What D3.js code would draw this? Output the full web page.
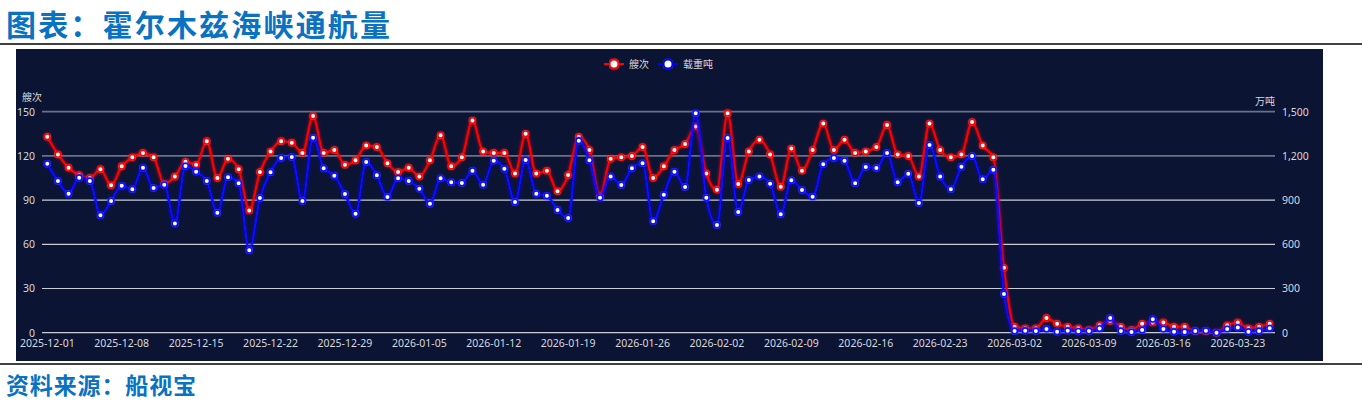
<!DOCTYPE html>
<html>
<head>
<meta charset="utf-8">
<script src="https://cdn.jsdelivr.net/npm/d3@7"></script>
<style>
    body { margin: 0; background: #ffffff; }
    svg { display: block; }
    text { font-family: "Noto Sans", "Noto Sans CJK SC", sans-serif; }
    .cjk { font-family: "Noto Sans CJK SC", sans-serif; }
    .axis path, .axis line { display: none; }
    .axis text { fill: #d6d8de; font-size: 10.5px; }
</style>
</head>
<body>
<script>
// set the dimensions and margins of the graph
var width = 1362
var height = 406
var panel = { left: 16, top: 49, right: 1323, bottom: 361 }
var margin = { top: 111.7, left: 42, right: 1275, bottom: 332.7 }

// data: one value per day, 2025-12-01 .. 2026-03-26
var startDate = "2025-12-01"
var dayCount = 116

// 艘次 (left axis)
var shipCounts = [
    133, 121, 112, 107, 105, 111, 100, 113, 119, 122, 119, 101, 106, 116, 114, 130,
    105, 118, 111, 83, 109, 123, 130, 129, 122, 147, 122, 124, 114, 117, 127, 126,
    115, 109, 112, 106, 117, 134, 113, 119, 144, 123, 122, 122, 108, 135, 108, 110,
    96, 107, 133, 124, 93, 118, 119, 120, 126, 105, 113, 124, 128, 140, 108, 97,
    149, 101, 123, 131, 121, 99, 125, 110, 124, 142, 124, 131, 122, 123, 126, 141,
    121, 120, 106, 142, 124, 119, 121, 143, 127, 119, 44, 4, 3, 3, 10, 6,
    4, 3, 2, 5, 8, 4, 2, 6, 7, 7, 4, 4, 1, 1, 0, 5,
    7, 3, 4, 6
]

// 载重吨 in 万吨 (right axis)
var dwtValues = [
    1147, 1030, 943, 1052, 1030, 797, 894, 998, 973, 1120, 982, 1004, 742, 1131, 1093, 1030,
    814, 1055, 1014, 559, 914, 1089, 1186, 1192, 894, 1323, 1116, 1066, 941, 808, 1159, 1068,
    921, 1048, 1030, 977, 876, 1048, 1021, 1016, 1100, 1005, 1167, 1113, 887, 1173, 943, 930,
    833, 778, 1303, 1170, 916, 1061, 1002, 1116, 1150, 756, 937, 1093, 989, 1489, 916, 731,
    1321, 819, 1036, 1061, 1011, 804, 1034, 969, 923, 1143, 1186, 1167, 1014, 1125, 1118, 1220,
    1021, 1079, 880, 1274, 1061, 973, 1127, 1199, 1041, 1106, 263, 12, 14, 12, 25, 7,
    14, 9, 12, 28, 99, 12, 5, 18, 92, 25, 7, 5, 12, 14, 0, 25,
    35, 7, 12, 30
]

var leftTicks = [0, 30, 60, 90, 120, 150]
var rightTicks = [0, 300, 600, 900, 1200, 1500]
var labelEvery = 7

var seriesNames = ["艘次", "载重吨"]
var axisNames = ["艘次", "万吨"]
var titleText = "图表：霍尔木兹海峡通航量"
var sourceText = "资料来源：船视宝"

var fmtDay = d3.timeFormat("%Y-%m-%d")
var dates = d3.timeDays(d3.timeParse("%Y-%m-%d")(startDate),
    d3.timeDay.offset(d3.timeParse("%Y-%m-%d")(startDate), dayCount)).map(fmtDay)

var xScale, yLeft, yRight

var svg = d3.select("body").append("svg")
    .attr("width", width)
    .attr("height", height);

var defs = svg.append("defs");
function addGlow(id, dev) {
    var f = defs.append("filter").attr("id", id)
        .attr("x", "-5%").attr("y", "-20%").attr("width", "110%").attr("height", "140%");
    f.append("feGaussianBlur").attr("in", "SourceGraphic").attr("stdDeviation", dev).attr("result", "b");
    var m = f.append("feMerge");
    m.append("feMergeNode").attr("in", "b");
    m.append("feMergeNode").attr("in", "SourceGraphic");
}
addGlow("glow", 1.6);
addGlow("glowDot", 1.2);

function renderFrame() {
    svg.append("text")
        .attr("class", "cjk")
        .attr("x", 6)
        .attr("y", 36)
        .attr("textLength", 384)
        .attr("lengthAdjust", "spacing")
        .style("font-size", "30px")
        .style("font-weight", "bold")
        .style("fill", "#0a72c2")
        .text(titleText);

    svg.append("line")
        .attr("x1", 0).attr("x2", width)
        .attr("y1", 44).attr("y2", 44)
        .style("stroke", "#000").style("stroke-width", 1.5);

    svg.append("rect")
        .attr("x", panel.left).attr("y", panel.top)
        .attr("width", panel.right - panel.left)
        .attr("height", panel.bottom - panel.top)
        .style("fill", "#0c1434");

    svg.append("line")
        .attr("x1", 0).attr("x2", width)
        .attr("y1", 364).attr("y2", 364)
        .style("stroke", "#000").style("stroke-width", 1.5);

    svg.append("text")
        .attr("class", "cjk")
        .attr("x", 6)
        .attr("y", 394)
        .attr("textLength", 190)
        .attr("lengthAdjust", "spacing")
        .style("font-size", "23px")
        .style("font-weight", "bold")
        .style("fill", "#0a72c2")
        .text(sourceText);
}

function renderAxes() {
    xScale = d3.scaleBand()
        .domain(dates)
        .range([margin.left, margin.right]);

    yLeft = d3.scaleLinear()
        .domain([0, 150])
        .range([margin.bottom, margin.top]);

    yRight = d3.scaleLinear()
        .domain([0, 1500])
        .range([margin.bottom, margin.top]);

    // grid lines
    svg.append("g")
        .selectAll("line")
        .data(leftTicks)
        .enter()
        .append("line")
        .attr("x1", margin.left)
        .attr("x2", margin.right)
        .attr("y1", (d) => yLeft(d))
        .attr("y2", (d) => yLeft(d))
        .style("stroke", (d) => d >= 120 ? "#6a7086" : "#c9ccd4")
        .style("stroke-width", (d) => d >= 120 ? 1.8 : 1.2);

    svg.append("g")
        .attr("class", "axis")
        .attr("transform", "translate(" + margin.left + ",0)")
        .call(d3.axisLeft(yLeft).tickValues(leftTicks).tickSize(0).tickPadding(7));

    svg.append("g")
        .attr("class", "axis")
        .attr("transform", "translate(" + margin.right + ",0)")
        .call(d3.axisRight(yRight).tickValues(rightTicks).tickSize(0).tickPadding(7)
            .tickFormat(d3.format(",")));

    svg.append("g")
        .attr("class", "axis")
        .attr("transform", "translate(0," + margin.bottom + ")")
        .call(d3.axisBottom(xScale)
            .tickValues(dates.filter((d, i) => i % labelEvery === 0))
            .tickSize(0).tickPadding(7));

    svg.append("text")
        .attr("class", "cjk")
        .attr("x", 22).attr("y", 101)
        .style("font-size", "10px").style("fill", "#d6d8de")
        .text(axisNames[0]);

    svg.append("text")
        .attr("class", "cjk")
        .attr("x", margin.right).attr("y", 105)
        .attr("text-anchor", "end")
        .style("font-size", "10px").style("fill", "#d6d8de")
        .text(axisNames[1]);
}

function renderSeries(values, yScale, color) {
    var pts = values.map((v, i) => ({ x: xScale(dates[i]) + xScale.bandwidth() / 2, y: yScale(v) }));

    var line = d3.line()
        .x((d) => d.x)
        .y((d) => d.y)
        .curve(d3.curveMonotoneX);

    svg.append("path")
        .datum(pts)
        .attr("d", line)
        .attr("filter", "url(#glow)")
        .style("fill", "none")
        .style("stroke", color)
        .style("stroke-width", 2);

    svg.append("g")
        .attr("filter", "url(#glowDot)")
        .selectAll("circle")
        .data(pts)
        .enter()
        .append("circle")
        .attr("cx", (d) => d.x)
        .attr("cy", (d) => d.y)
        .attr("r", 2.8)
        .style("fill", "#ffffff")
        .style("stroke", color)
        .style("stroke-width", 1.6);
}

function renderLegend() {
    var items = [
        { name: seriesNames[0], color: "#ff0000", x: 604 },
        { name: seriesNames[1], color: "#0000ff", x: 658 }
    ];
    var g = svg.append("g");
    items.forEach(function (it) {
        g.append("line")
            .attr("x1", it.x).attr("x2", it.x + 20)
            .attr("y1", 64).attr("y2", 64)
            .style("stroke", it.color).style("stroke-width", 2);
        g.append("circle")
            .attr("cx", it.x + 10).attr("cy", 64).attr("r", 4.5)
            .attr("filter", "url(#glowDot)")
            .style("fill", "#ffffff")
            .style("stroke", it.color).style("stroke-width", 2);
        g.append("text")
            .attr("class", "cjk")
            .attr("x", it.x + 25).attr("y", 68)
            .style("font-size", "10px").style("fill", "#d6d8de")
            .text(it.name);
    });
}

renderFrame();
renderAxes();
renderSeries(shipCounts, yLeft, "#ff0000");
renderSeries(dwtValues, yRight, "#0a0aff");
renderLegend();
</script>
</body>
</html>
